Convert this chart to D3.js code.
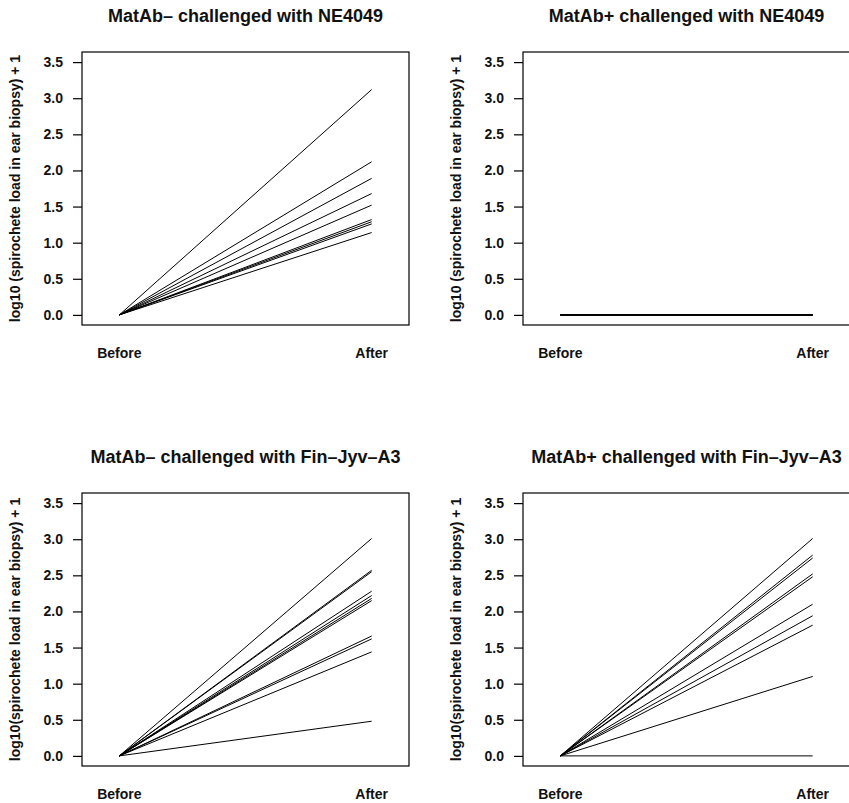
<!DOCTYPE html>
<html>
<head>
<meta charset="utf-8">
<script src="https://cdn.jsdelivr.net/npm/d3@7"></script>
<style>
  body { margin: 0; background: #fff; }
  svg { font-family: "Liberation Sans", Arial, sans-serif; }
  .chart__title { font-size: 18px; font-weight: bold; fill: #111; }
  .chart__tick { font-size: 14px; font-weight: bold; fill: #111; }
</style>
</head>
<body>
<div id="chart"></div>
<script>
// time points, both on the same x axis
var timePoints = ['Before', 'After'];
var yTicks = [0, 0.5, 1, 1.5, 2, 2.5, 3, 3.5];

// log10(load)+1 after challenge, one value per mouse (before is always 0)
var matAbMinusNE4049 = [3.12, 2.12, 1.89, 1.68, 1.52, 1.32, 1.29, 1.26, 1.14];
var matAbPlusNE4049 = [0, 0, 0, 0, 0, 0, 0, 0];
var matAbMinusFin = [3.01, 2.57, 2.55, 2.28, 2.22, 2.18, 2.15, 1.66, 1.62, 1.44, 0.48];
var matAbPlusFin = [3.01, 2.78, 2.74, 2.52, 2.48, 2.10, 1.94, 1.81, 1.10, 0];

var panelTitles = [
  'MatAb\u2013 challenged with NE4049',
  'MatAb+ challenged with NE4049',
  'MatAb\u2013 challenged with Fin\u2013Jyv\u2013A3',
  'MatAb+ challenged with Fin\u2013Jyv\u2013A3'
];
var yLabels = [
  'log10 (spirochete load in ear biopsy) + 1',
  'log10 (spirochete load in ear biopsy) + 1',
  'log10(spirochete load in ear biopsy) + 1',
  'log10(spirochete load in ear biopsy) + 1'
];

var panels = [matAbMinusNE4049, matAbPlusNE4049, matAbMinusFin, matAbPlusFin].map(function(v, i) {
  return { title: panelTitles[i], yLabel: yLabels[i], after: v };
});

var width = 849, height = 803;
var step = 441;           // distance between panels (same both ways)
var box = { left: 82, top: 52, width: 327, height: 273 };

var svg = d3.select('#chart').append('svg')
  .attr('width', width)
  .attr('height', height);

// R style: xlim 0.9..2.1, ylim 0..3.5 with the 4% extension
var xScale = d3.scaleLinear().domain([0.852, 2.148]).range([0, box.width]);
var yScale = d3.scaleLinear().domain([-0.14, 3.64]).range([box.height, 0]);

panels.forEach(function(p, i) {
  var col = i % 2, row = Math.floor(i / 2);
  let g = svg.append('g')
    .attr('transform', `translate(${box.left + col * step},${box.top + row * step})`);

  // title
  g.append('text')
    .attr('class', 'chart__title')
    .attr('x', box.width / 2)
    .attr('y', -30.5)
    .attr('text-anchor', 'middle')
    .text(p.title);

  // one line per mouse
  p.after.forEach(function(v) {
    g.append('line')
      .attr('x1', xScale(1)).attr('y1', yScale(0))
      .attr('x2', xScale(2)).attr('y2', yScale(v))
      .attr('stroke', '#000')
      .attr('stroke-width', 1);
  });

  // box
  g.append('rect')
    .attr('x', 0).attr('y', 0)
    .attr('width', box.width).attr('height', box.height)
    .attr('fill', 'none')
    .attr('stroke', '#000')
    .attr('stroke-width', 1.2);

  // y axis
  var yAxis = d3.axisLeft(yScale)
    .tickValues(yTicks)
    .tickFormat(d3.format('.1f'))
    .tickSizeInner(9)
    .tickSizeOuter(0)
    .tickPadding(10);

  let ax = g.append('g').call(yAxis);
  ax.select('.domain').remove();
  ax.selectAll('line').attr('stroke', '#000').attr('stroke-width', 1.2);
  ax.selectAll('text')
    .attr('class', 'chart__tick')
    .attr('fill', null)
    .style('font-family', '"Liberation Sans", Arial, sans-serif');

  // x labels, no ticks
  timePoints.forEach(function(t, k) {
    g.append('text')
      .attr('class', 'chart__tick')
      .attr('x', xScale(k + 1))
      .attr('y', box.height + 33)
      .attr('text-anchor', 'middle')
      .text(t);
  });

  // y label
  g.append('text')
    .attr('class', 'chart__tick')
    .attr('transform', `translate(${-62},${box.height / 2}) rotate(-90)`)
    .attr('text-anchor', 'middle')
    .text(p.yLabel);
});
</script>
</body>
</html>
